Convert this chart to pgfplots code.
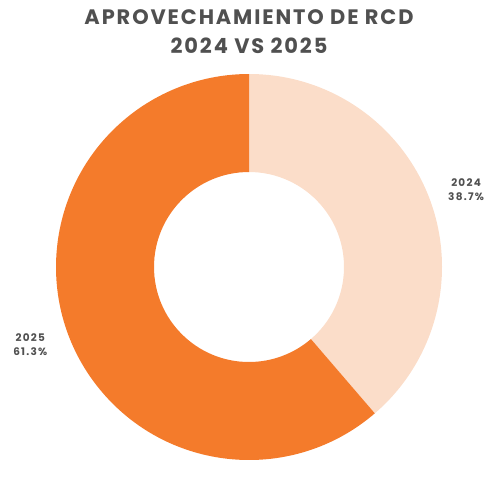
\documentclass[border=0pt]{standalone}
\usepackage{fontspec}
\setmainfont{Poppins}
\usepackage{pgfplots}
\usepackage{pgfplotstable}
\pgfplotsset{compat=1.18}
\definecolor{c2025}{HTML}{F47B2B}
\definecolor{c2024}{HTML}{FBDDC9}
\definecolor{txtgray}{HTML}{505050}

% share of each year, percent
\pgfplotstableread{
year pct
2024 38.7
2025 61.3
}\rcdtable

\begin{document}
\begin{tikzpicture}
% geometry in pixel units of the 494x462 picture
\def\cx{249}
\def\cy{195}
\def\R{193}
\def\r{95}
\pgfplotstablegetelem{0}{pct}\of\rcdtable \let\pa\pgfplotsretval
\pgfplotstablegetelem{1}{pct}\of\rcdtable \let\pb\pgfplotsretval
\pgfmathsetmacro\ea{90-3.6*\pa}      % end of 2024 slice
\pgfmathsetmacro\eb{\ea-3.6*\pb}     % end of 2025 slice
\pgfmathsetmacro\ma{(90+\ea)/2}
\pgfmathsetmacro\mb{(\ea+\eb)/2}
\pgfmathsetmacro\xa{\cx+1.12*\R*cos(\ma)}
\pgfmathsetmacro\ya{\cy+1.12*\R*sin(\ma)}
\pgfmathsetmacro\xb{\cx+1.17*\R*cos(\mb)}
\pgfmathsetmacro\yb{\cy+1.17*\R*sin(\mb)}
\pgfmathsetmacro\ixa{\cx+\r*cos(\ea)}
\pgfmathsetmacro\iya{\cy+\r*sin(\ea)}
\pgfmathsetmacro\ixb{\cx+\r*cos(\eb)}
\pgfmathsetmacro\iyb{\cy+\r*sin(\eb)}
\begin{axis}[
    scale only axis,
    width=494bp,
    height=462bp,
    xmin=0, xmax=494,
    ymin=0, ymax=462,
    hide axis,
    clip=false,
]
\path (axis cs:0,0) rectangle (axis cs:494,462);

% 2024 slice
\fill[c2024] (axis cs:\cx,\cy+\R) arc[start angle=90, end angle=\ea, radius=\R bp]
    -- (axis cs:\ixa,\iya) arc[start angle=\ea, end angle=90, radius=\r bp] -- cycle;
% 2025 slice
\fill[c2025] (axis cs:{\cx+\R*cos(\ea)},{\cy+\R*sin(\ea)}) arc[start angle=\ea, end angle=\eb, radius=\R bp]
    -- (axis cs:\ixb,\iyb) arc[start angle=\eb, end angle=\ea, radius=\r bp] -- cycle;

\node[font=\bfseries\fontsize{10.5}{13.5}\selectfont\addfontfeature{LetterSpace=12}, text=txtgray, align=center, anchor=west]
    at (axis cs:\xa-7,\ya+2) {2024\\\pa\%};
\node[font=\bfseries\fontsize{10.5}{13.5}\selectfont\addfontfeature{LetterSpace=12}, text=txtgray, align=center]
    at (axis cs:\xb-7,\yb+1) {2025\\\pb\%};

\node[font=\bfseries\fontsize{21}{29}\selectfont\addfontfeature{LetterSpace=9}, text=txtgray, align=center]
    at (axis cs:249,430) {APROVECHAMIENTO DE RCD\\2024 VS 2025};
\end{axis}
\end{tikzpicture}
\end{document}
